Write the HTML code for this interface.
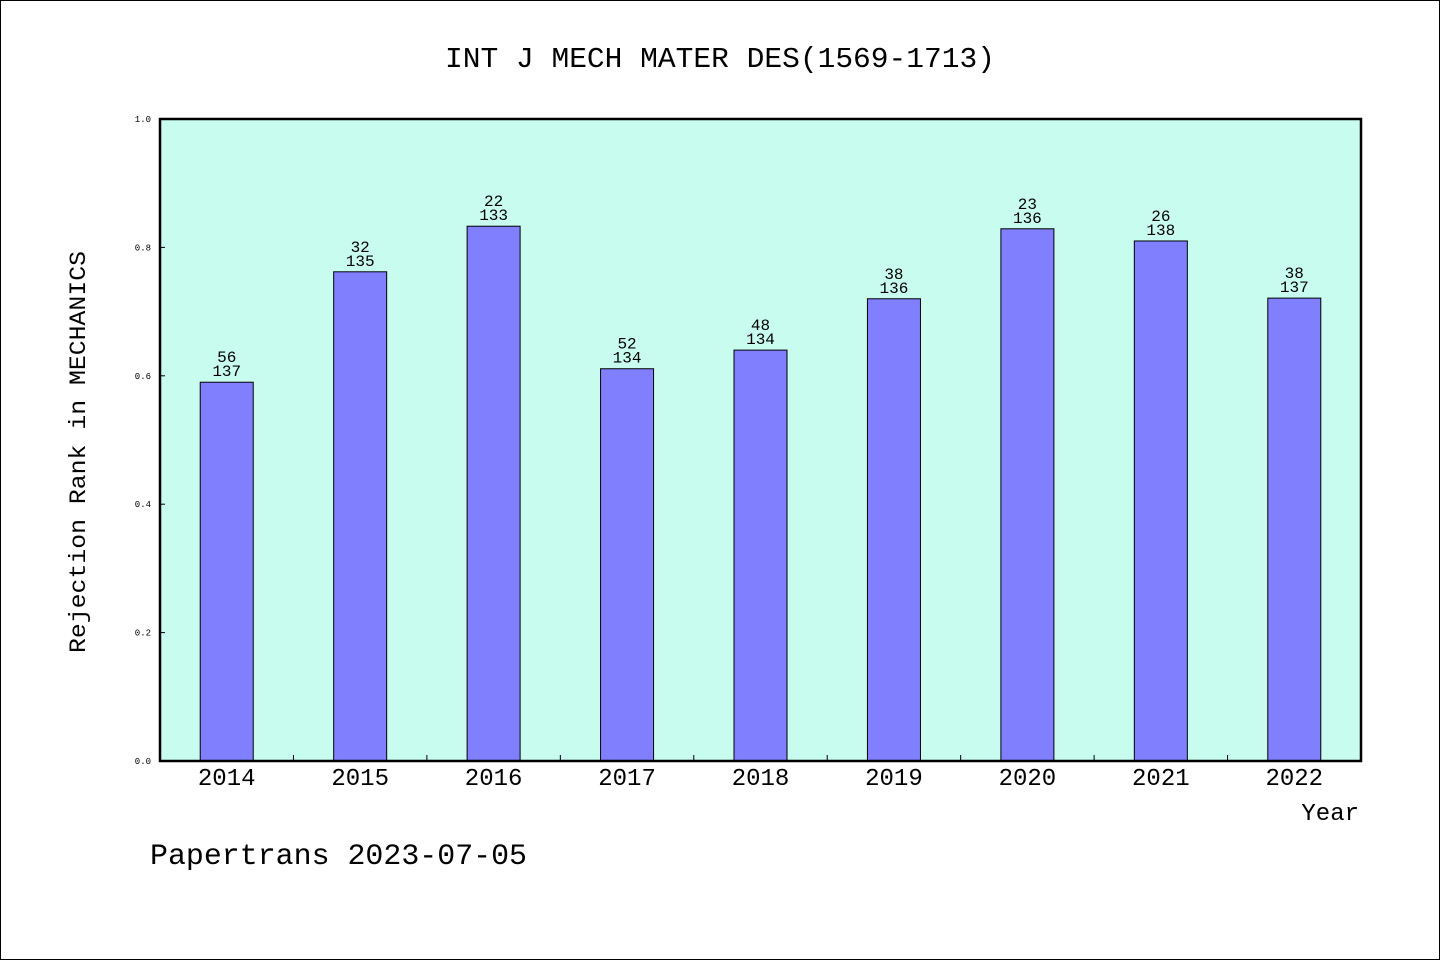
<!DOCTYPE html>
<html><head><meta charset="utf-8"><style>body{margin:0;background:#fff}svg{display:block}text{font-family:"Liberation Mono","DejaVu Sans Mono",monospace;fill:#000}</style></head>
<body>
<svg id="chart" width="1440" height="960" xmlns="http://www.w3.org/2000/svg">
<rect x="0.5" y="0.5" width="1439" height="959" fill="#fff" stroke="#000"/>
<text x="720" y="67" font-size="29" text-anchor="middle" textLength="550" lengthAdjust="spacingAndGlyphs">INT J MECH MATER DES(1569-1713)</text>
<rect x="160" y="119" width="1201" height="642" fill="#c8fcee"/>
<g id="bars"></g>
<g id="axes"></g>
<rect x="160" y="119" width="1201" height="642" fill="none" stroke="#000" stroke-width="2.5"/>
<text x="85" y="452" font-size="23" text-anchor="middle" transform="rotate(-90 85 452)" textLength="402" lengthAdjust="spacingAndGlyphs">Rejection Rank in MECHANICS</text>
<text x="1359" y="820" font-size="24" text-anchor="end">Year</text>
<text x="150" y="864" font-size="30" textLength="377" lengthAdjust="spacingAndGlyphs">Papertrans 2023-07-05</text>
</svg>
<script>
const years = ["2014","2015","2016","2017","2018","2019","2020","2021","2022"];
const ranks = [56,32,22,52,48,38,23,26,38];
const totals = [137,135,133,134,134,136,136,138,137];
const values = [0.590,0.762,0.833,0.611,0.640,0.720,0.829,0.810,0.721];
const yTicks = ["0.0","0.2","0.4","0.6","0.8","1.0"];
const NS="http://www.w3.org/2000/svg";
const X0=160,X1=1361,Y0=761,Y1=119;
const bw=(X1-X0)/years.length;
const xc=i=>X0+bw*(i+0.5);
const ys=v=>Y0-(v)*(Y0-Y1);
function mk(t,a,p){const e=document.createElementNS(NS,t);for(const k in a)e.setAttribute(k,a[k]);p.appendChild(e);return e;}
const bars=document.getElementById('bars'),axes=document.getElementById('axes');
years.forEach((y,i)=>{
  const top=ys(values[i]);
  const r=mk('rect',{x:xc(i)-26.5,y:top,width:53,height:Y0-top,fill:'#8080ff',stroke:'#000','stroke-width':1},bars);
  
  
  const t1=mk('text',{x:xc(i),y:top-20,'font-size':16,'text-anchor':'middle'},bars);t1.textContent=ranks[i];
  
  
  const t2=mk('text',{x:xc(i),y:top-6,'font-size':16,'text-anchor':'middle'},bars);t2.textContent=totals[i];
  
  
  const xl=mk('text',{x:xc(i),y:785,'font-size':24,'text-anchor':'middle'},axes);xl.textContent=y;
  
  
  if(i>0){const tk=mk('line',{x1:X0+bw*i,x2:X0+bw*i,y1:Y0,y2:Y0-6,stroke:'#000'},axes);
  
  }
});
yTicks.forEach(s=>{
  const v=parseFloat(s),y=ys(v);
  const l=mk('line',{x1:X0,x2:X0+5,y1:y,y2:y,stroke:'#000'},axes);
  
  
  const t=mk('text',{x:151,y:y+3,'font-size':9,'text-anchor':'end'},axes);t.textContent=s;
  
  
});
</script>
</body></html>
